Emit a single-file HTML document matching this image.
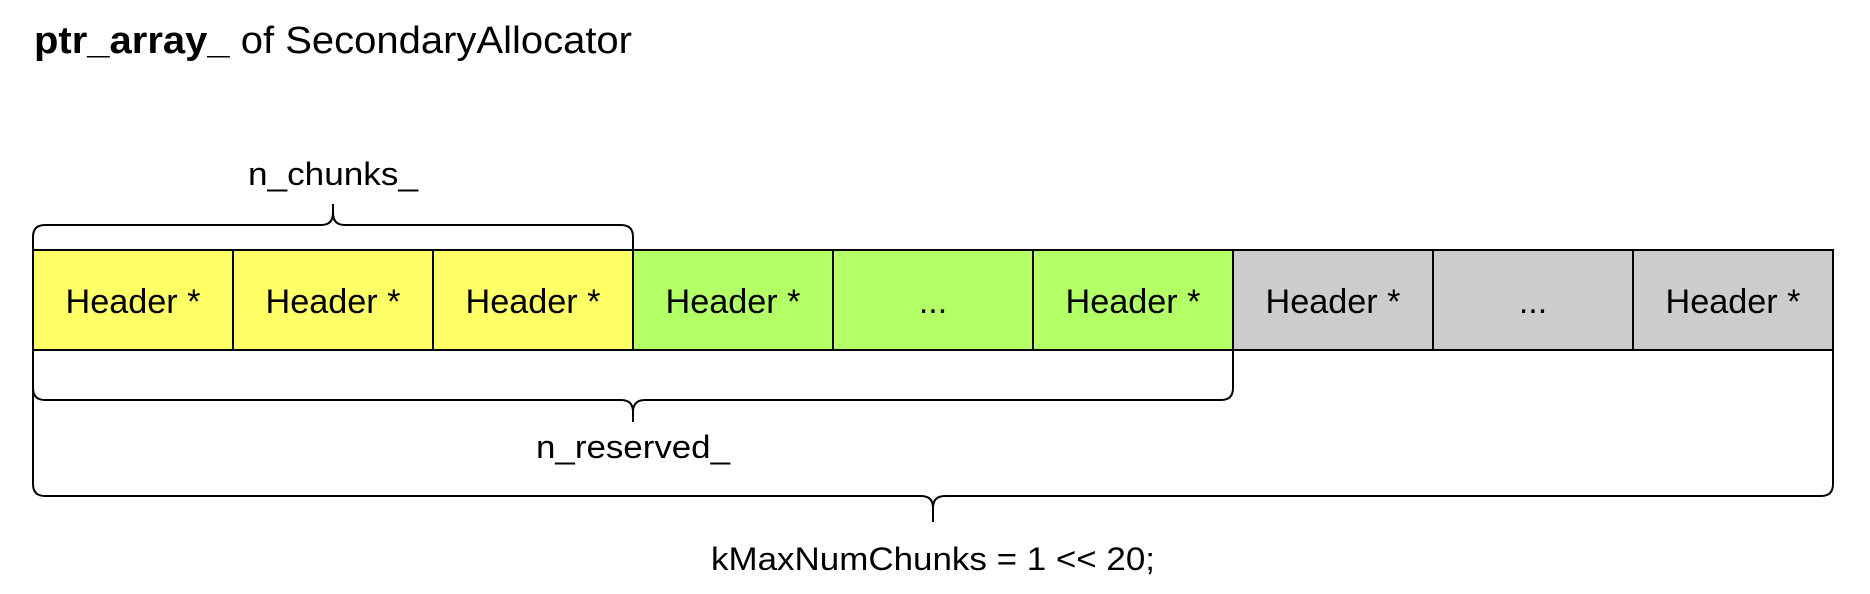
<!DOCTYPE html>
<html><head><meta charset="utf-8"><style>
html,body{margin:0;padding:0;background:#fff;}
svg{display:block;}
text{font-family:"Liberation Sans",Arial,sans-serif;fill:#000;}
</style></head><body>
<svg width="1870" height="594" viewBox="0 0 1870 594" xmlns="http://www.w3.org/2000/svg">
  <text x="34" y="53" font-size="38" textLength="598" lengthAdjust="spacingAndGlyphs"><tspan font-weight="bold">ptr_array_</tspan> of SecondaryAllocator</text>
  <g id="cells"></g>
  <g id="braces"></g>
</svg>
<script>
const cellLabels = ["Header *","Header *","Header *","Header *","...","Header *","Header *","...","Header *"];
const cellKinds = ["chunk","chunk","chunk","reserved","reserved","reserved","free","free","free"];
const nChunks = 3;
const nReserved = 6;
const kMax = 9;
const braceLabels = ["n_chunks_","n_reserved_","kMaxNumChunks = 1 << 20;"];

const NS = "http://www.w3.org/2000/svg";
const X0 = 33, CW = 200, TOP = 250, BOT = 350;
const colors = {chunk:"#ffff66", reserved:"#b3ff66", free:"#cccccc"};
const xAt = i => X0 + i * CW;
const cells = document.getElementById('cells');
cellLabels.forEach((lab, i) => {
  const r = document.createElementNS(NS, 'rect');
  r.setAttribute('x', xAt(i)); r.setAttribute('y', TOP);
  r.setAttribute('width', CW); r.setAttribute('height', BOT - TOP);
  r.setAttribute('fill', colors[cellKinds[i]]);
  r.setAttribute('stroke', '#000'); r.setAttribute('stroke-width', '2');
  
  
  cells.appendChild(r);
  const t = document.createElementNS(NS, 'text');
  t.setAttribute('x', xAt(i) + CW / 2); t.setAttribute('y', 313);
  t.setAttribute('font-size', '34'); t.setAttribute('text-anchor', 'middle');
  if (lab !== '...') { t.setAttribute('textLength', '135'); t.setAttribute('lengthAdjust', 'spacingAndGlyphs'); }
  t.textContent = lab;
  
  
  cells.appendChild(t);
});

const braces = document.getElementById('braces');
function brace(n, lineY, dir, tipLen, label, labelY, labelW, name) {
  const x1 = X0, x2 = xAt(n), cx = (x1 + x2) / 2, r = 12, c = 12;
  const endY = dir < 0 ? TOP : BOT;
  const d = `M${x1},${endY} L${x1},${lineY - dir * r} Q${x1},${lineY} ${x1 + r},${lineY} L${cx - c},${lineY} Q${cx},${lineY} ${cx},${lineY + dir * c} L${cx},${lineY + dir * tipLen} M${cx},${lineY + dir * c} Q${cx},${lineY} ${cx + c},${lineY} L${x2 - r},${lineY} Q${x2},${lineY} ${x2},${lineY - dir * r} L${x2},${endY}`;
  const p = document.createElementNS(NS, 'path');
  p.setAttribute('d', d); p.setAttribute('fill', 'none');
  p.setAttribute('stroke', '#000'); p.setAttribute('stroke-width', '2');
  
  
  braces.appendChild(p);
  const t = document.createElementNS(NS, 'text');
  t.setAttribute('x', cx); t.setAttribute('y', labelY);
  t.setAttribute('font-size', '32'); t.setAttribute('text-anchor', 'middle');
  t.setAttribute('textLength', labelW); t.setAttribute('lengthAdjust', 'spacingAndGlyphs');
  t.textContent = label;
  
  
  braces.appendChild(t);
}
brace(nChunks, 225, -1, 21, braceLabels[0], 185, 170, 'n-chunks');
brace(nReserved, 400, 1, 22, braceLabels[1], 458, 194, 'n-reserved');
brace(kMax, 496, 1, 26, braceLabels[2], 570, 444, 'k-max-num-chunks');
</script>
</body></html>
